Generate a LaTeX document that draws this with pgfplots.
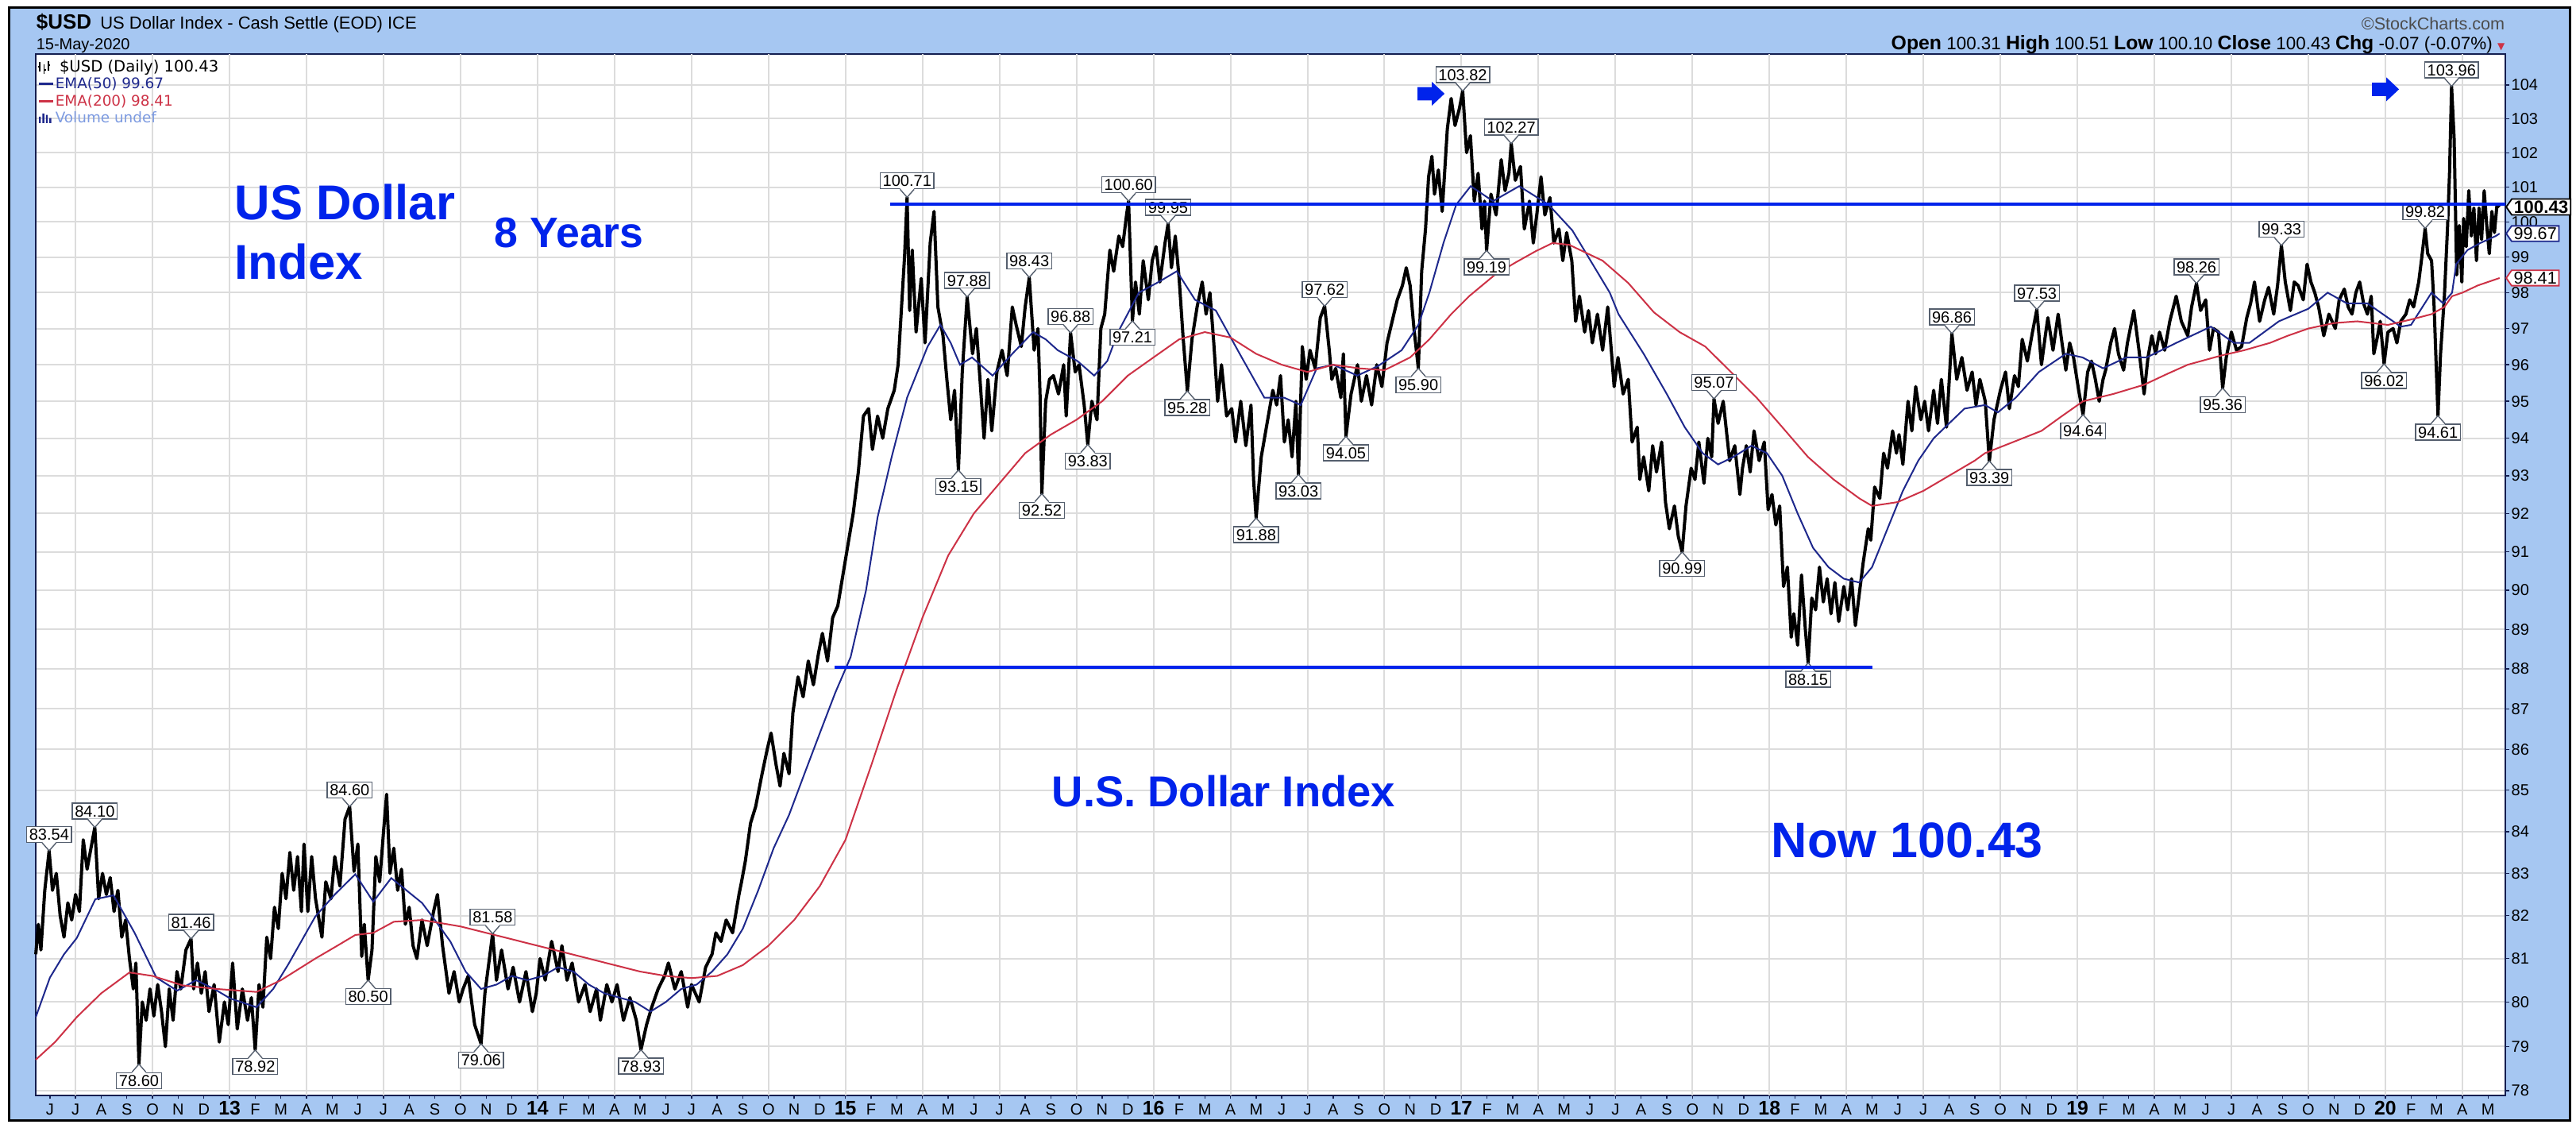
\documentclass[border=0pt]{standalone}
\usepackage{fontspec}
\setmainfont{Liberation Sans}
\newfontfamily\dejavu{DejaVu Sans}
\usepackage{pgfplots}
\usepackage{pgfplotstable}
\pgfplotsset{compat=1.18}
\usetikzlibrary{shapes.symbols}
\definecolor{framebg}{RGB}{166,199,242}
\definecolor{navy}{RGB}{30,40,140}
\definecolor{emared}{RGB}{205,50,70}
\definecolor{annblue}{RGB}{0,35,235}
\definecolor{gridgray}{RGB}{220,220,220}
\definecolor{labgray}{RGB}{85,95,110}
\definecolor{axnavy}{RGB}{20,30,80}
\definecolor{volblue}{RGB}{125,155,225}

\newcommand{\yr}[1]{{\fontsize{6.2}{6}\selectfont\bfseries #1}}
\tikzset{lab/.style={draw=labgray, fill=white, line width=0.35pt, inner xsep=0.8pt, inner ysep=0.7pt,
  font=\fontsize{5}{5}\selectfont, text height=3.6pt, text depth=0pt}}
\newcommand{\hilab}[3]{%
  \node[lab, anchor=south, yshift=2.5pt] at (axis cs:#1,#2) {#3};
  \fill[white] (axis cs:#1,#2) -- ++(-2.2pt,2.8pt) -- ++(4.4pt,0pt) -- cycle;
  \draw[labgray, line width=0.35pt] (axis cs:#1,#2) ++(-2.2pt,2.5pt) -- (axis cs:#1,#2) -- ++(2.2pt,2.5pt);}
\newcommand{\lolab}[3]{%
  \node[lab, anchor=north, yshift=-2.5pt] at (axis cs:#1,#2) {#3};
  \fill[white] (axis cs:#1,#2) -- ++(-2.2pt,-2.8pt) -- ++(4.4pt,0pt) -- cycle;
  \draw[labgray, line width=0.35pt] (axis cs:#1,#2) ++(-2.2pt,-2.5pt) -- (axis cs:#1,#2) -- ++(2.2pt,-2.5pt);}
\newcommand{\barrow}[2]{%
  \fill[annblue] (axis cs:#1,#2) ++(0pt,-2.1pt) -- ++(4.5pt,0pt) -- ++(0pt,-1.65pt) -- ++(4pt,3.75pt)
   -- ++(-4pt,3.75pt) -- ++(0pt,-1.65pt) -- ++(-4.5pt,0pt) -- cycle;}

% x = months since Jan 2012 (Jan 2013 = 12), y = index value
\pgfplotstableread{
x y
4.45 81.1
4.55 81.8
4.65 81.2
4.8 82.6
4.97 83.54
5.1 82.6
5.25 83.0
5.4 82.0
5.55 81.5
5.7 82.3
5.85 81.9
6.0 82.5
6.15 82.1
6.3 83.8
6.45 83.1
6.6 83.6
6.75 84.10
6.9 82.4
7.05 83.0
7.2 82.5
7.35 82.9
7.5 82.1
7.65 82.6
7.8 81.5
7.95 81.9
8.1 81.0
8.25 80.3
8.35 80.9
8.47 78.60
8.6 80.0
8.75 79.6
8.9 80.3
9.05 79.7
9.2 80.4
9.35 79.8
9.5 79.0
9.65 80.3
9.8 79.6
9.95 80.7
10.1 80.3
10.3 81.2
10.5 81.46
10.6 80.3
10.75 80.9
10.9 80.2
11.05 80.7
11.2 79.8
11.4 80.4
11.6 79.1
11.8 80.0
11.95 79.5
12.12 80.9
12.3 79.4
12.5 80.3
12.7 79.6
12.85 80.1
13.0 78.92
13.15 80.4
13.3 79.9
13.45 81.5
13.6 81.0
13.75 82.2
13.9 81.7
14.05 83.0
14.2 82.4
14.35 83.5
14.5 82.6
14.65 83.4
14.8 82.1
14.9 83.7
15.05 82.1
15.2 83.4
15.35 82.4
15.6 81.5
15.75 82.8
15.95 82.4
16.1 83.4
16.3 82.7
16.5 84.3
16.68 84.60
16.85 83.05
17.0 83.7
17.15 81.05
17.25 81.8
17.4 80.50
17.55 81.2
17.7 83.4
17.85 82.8
18.0 84.0
18.12 84.9
18.25 83.0
18.4 83.6
18.55 82.6
18.7 83.1
18.85 81.8
19.0 82.2
19.15 81.3
19.3 81.0
19.5 81.9
19.7 81.3
19.95 82.1
20.1 82.5
20.3 81.3
20.55 80.2
20.75 80.7
20.95 80.0
21.1 80.3
21.3 80.6
21.55 79.5
21.8 79.06
21.95 80.2
22.25 81.58
22.4 80.5
22.6 81.2
22.85 80.3
23.05 80.8
23.3 80.0
23.55 80.7
23.8 79.8
23.95 80.2
24.1 81.0
24.3 80.5
24.55 81.4
24.8 80.7
24.95 81.3
25.15 80.5
25.35 80.9
25.6 80.0
25.85 80.4
26.05 79.8
26.3 80.3
26.45 79.6
26.7 80.4
26.9 80.0
27.1 80.4
27.35 79.6
27.6 80.1
27.85 79.6
28.03 78.93
28.25 79.5
28.45 79.9
28.7 80.3
28.95 80.6
29.1 80.9
29.35 80.3
29.6 80.7
29.85 79.9
30.0 80.4
30.3 80.0
30.55 80.8
30.8 81.1
30.95 81.6
31.15 81.4
31.35 81.9
31.6 81.6
31.85 82.5
31.95 82.8
32.1 83.3
32.3 84.2
32.5 84.6
32.75 85.4
32.95 86.0
33.1 86.4
33.3 85.6
33.45 85.1
33.6 85.9
33.8 85.4
33.95 86.9
34.15 87.8
34.35 87.3
34.55 88.2
34.75 87.6
34.95 88.4
35.1 88.9
35.3 88.2
35.5 89.3
35.7 89.6
35.9 90.4
36.1 91.2
36.3 92.0
36.5 93.1
36.7 94.6
36.9 94.8
37.05 93.7
37.25 94.6
37.45 94.0
37.65 94.8
37.9 95.3
38.05 96.0
38.2 97.8
38.3 99.0
38.4 100.71
38.5 97.5
38.6 99.2
38.75 96.9
38.95 98.4
39.1 96.6
39.3 99.4
39.45 100.3
39.6 97.6
39.8 96.8
39.95 95.6
40.1 94.5
40.25 95.3
40.40 93.15
40.55 95.8
40.74 97.88
40.95 96.3
41.1 97.0
41.25 95.5
41.4 94.0
41.55 95.6
41.7 94.2
41.9 95.8
42.1 96.4
42.3 95.7
42.5 97.6
42.65 97.1
42.85 96.5
43.0 97.6
43.16 98.43
43.35 96.4
43.5 97.0
43.58 95.2
43.65 92.52
43.8 95.0
43.95 95.6
44.1 95.7
44.3 95.2
44.5 96.0
44.6 94.6
44.77 96.88
44.95 95.8
45.1 96.0
45.3 94.9
45.44 93.83
45.6 95.0
45.8 94.5
45.95 97.0
46.1 97.4
46.3 99.2
46.45 98.6
46.65 99.6
46.8 99.3
46.95 100.2
47.03 100.60
47.18 97.21
47.3 98.3
47.45 97.4
47.6 98.9
47.8 97.8
47.95 98.9
48.1 99.3
48.25 98.3
48.45 99.4
48.57 99.95
48.7 98.7
48.85 99.6
49.0 98.4
49.15 96.8
49.32 95.28
49.5 96.7
49.7 97.6
49.9 98.3
50.05 97.4
50.2 98.0
50.35 96.6
50.5 95.0
50.65 96.0
50.85 94.6
51.05 94.8
51.2 93.9
51.4 95.0
51.6 93.8
51.8 94.9
51.9 92.9
52.0 91.88
52.2 93.5
52.45 94.5
52.65 95.3
52.8 94.9
52.95 95.7
53.1 93.9
53.25 94.5
53.4 93.5
53.55 95.0
53.65 93.03
53.8 96.5
53.95 95.6
54.1 96.4
54.3 95.9
54.5 97.3
54.67 97.62
54.85 96.4
54.95 95.6
55.1 95.9
55.3 95.1
55.4 96.3
55.5 94.05
55.7 95.2
55.95 96.0
56.1 95.0
56.3 95.7
56.5 94.9
56.7 96.0
56.9 95.4
57.1 96.6
57.3 97.2
57.5 97.8
57.7 98.2
57.85 98.7
58.0 98.2
58.15 97.0
58.32 95.90
58.45 98.6
58.6 99.8
58.72 101.3
58.85 101.9
58.95 100.8
59.1 101.5
59.25 100.3
59.45 102.7
59.6 103.6
59.75 102.8
59.92 103.3
60.05 103.82
60.2 102.0
60.35 102.5
60.5 100.6
60.65 101.4
60.8 99.8
60.9 100.6
60.98 99.19
61.15 100.8
61.35 100.2
61.55 101.8
61.7 100.9
61.85 101.4
61.94 102.27
62.1 101.2
62.3 101.6
62.45 99.8
62.65 100.6
62.8 99.4
62.95 100.3
63.1 101.3
63.25 100.2
63.45 100.7
63.6 99.4
63.8 99.8
63.95 98.9
64.1 99.7
64.3 98.9
64.45 97.2
64.6 97.9
64.8 96.9
64.95 97.5
65.1 96.6
65.3 97.4
65.5 96.4
65.7 97.6
65.85 96.3
65.95 95.4
66.1 96.2
66.3 95.2
66.5 95.6
66.65 93.9
66.85 94.3
66.95 92.9
67.1 93.5
67.3 92.6
67.45 93.8
67.6 93.1
67.8 93.9
67.95 92.3
68.1 91.6
68.3 92.2
68.45 91.4
68.6 90.99
68.75 92.2
68.95 93.2
69.1 92.9
69.25 93.9
69.45 92.8
69.6 94.0
69.75 93.5
69.84 95.07
70.0 94.4
70.2 95.0
70.45 93.4
70.65 93.8
70.85 92.5
70.95 93.2
71.1 93.8
71.25 93.1
71.4 94.2
71.6 93.4
71.8 93.9
71.95 92.1
72.1 92.5
72.25 91.7
72.4 92.2
72.55 90.1
72.7 90.6
72.85 88.8
72.95 89.4
73.1 88.6
73.25 90.4
73.4 89.0
73.51 88.15
73.65 89.8
73.8 89.5
73.95 90.6
74.1 89.7
74.25 90.3
74.4 89.4
74.55 90.2
74.7 89.2
74.9 90.1
75.05 89.5
75.2 90.3
75.35 89.1
75.5 89.9
75.65 90.7
75.85 91.6
75.95 91.3
76.1 92.7
76.3 92.4
76.45 93.6
76.6 93.2
76.8 94.2
76.95 93.6
77.05 94.1
77.2 93.3
77.4 95.0
77.55 94.2
77.7 95.4
77.9 94.5
78.05 95.0
78.2 94.2
78.4 95.3
78.55 94.4
78.7 95.6
78.9 94.3
79.0 95.5
79.11 96.86
79.3 95.6
79.5 96.2
79.7 95.3
79.9 95.8
80.05 94.9
80.2 95.6
80.41 95.0
80.57 93.39
80.75 94.5
81.0 95.3
81.2 95.8
81.35 94.8
81.55 95.7
81.7 95.4
81.85 96.7
82.05 96.1
82.25 96.9
82.42 97.53
82.6 96.0
82.75 96.8
82.85 97.3
83.05 96.4
83.25 97.4
83.4 96.6
83.55 95.85
83.7 96.6
83.85 96.2
84.05 95.3
84.22 94.64
84.4 95.8
84.55 96.1
84.7 95.6
84.85 95.0
85.0 95.6
85.1 95.85
85.3 96.6
85.45 97.0
85.6 96.3
85.8 95.85
85.95 96.6
86.2 97.5
86.4 96.4
86.6 95.2
86.75 96.2
86.9 96.8
87.05 96.3
87.2 96.9
87.4 96.4
87.6 97.2
87.85 97.9
88.05 97.2
88.3 96.8
88.45 97.6
88.64 98.26
88.8 97.5
89.0 97.8
89.15 96.4
89.3 97.0
89.5 96.9
89.66 95.36
89.8 96.2
90.0 96.9
90.2 96.4
90.4 96.5
90.6 97.3
90.75 97.7
90.9 98.3
91.1 97.2
91.3 97.8
91.45 98.15
91.65 97.4
91.8 98.2
91.95 99.33
92.1 98.3
92.3 97.5
92.45 98.3
92.6 98.2
92.8 97.8
92.95 98.8
93.1 98.3
93.25 98.0
93.4 97.6
93.6 96.8
93.8 97.4
94.05 97.0
94.2 97.8
94.4 98.1
94.55 97.6
94.7 97.4
94.85 98.0
95.0 98.3
95.15 97.7
95.3 97.4
95.45 97.9
95.55 96.3
95.7 96.8
95.8 97.2
95.95 96.02
96.1 96.9
96.3 97.0
96.45 96.6
96.6 97.2
96.8 97.4
96.95 97.8
97.1 97.6
97.3 98.3
97.42 99.0
97.55 99.82
97.65 99.1
97.8 98.9
97.9 97.6
98.05 94.61
98.15 96.3
98.3 97.9
98.42 99.8
98.5 101.4
98.58 103.96
98.68 102.4
98.78 98.5
98.88 99.9
98.98 98.3
99.05 100.1
99.15 99.3
99.25 100.9
99.35 99.6
99.45 100.4
99.55 98.9
99.65 100.4
99.75 99.5
99.85 100.9
99.95 99.9
100.05 99.1
100.15 100.3
100.25 99.7
100.35 100.5
100.45 100.43
}\pricetab

\pgfplotstableread{
x y
4.45 79.66
5.0 80.56
5.55 81.1
6.05 81.48
6.77 82.39
7.48 82.48
8.3 81.6
9.15 80.56
9.96 80.26
10.7 80.5
11.4 80.3
12.03 80.08
13.05 79.9
13.7 80.3
14.29 80.87
15.34 81.98
16.1 82.5
16.9 82.98
17.6 82.33
18.3 82.89
19.5 82.3
20.0 81.9
20.6 81.4
21.2 80.7
21.8 80.3
22.4 80.4
23.0 80.6
23.6 80.5
24.2 80.6
24.8 80.8
25.4 80.7
26.0 80.4
26.6 80.2
27.2 80.1
27.8 80.0
28.4 79.8
29.0 80.0
29.6 80.3
30.2 80.4
30.8 80.7
31.4 81.1
32.0 81.7
32.6 82.6
33.2 83.6
33.8 84.4
34.4 85.4
35.0 86.4
35.6 87.4
36.2 88.3
36.8 90.0
37.25 91.9
37.8 93.5
38.4 95.1
39.2 96.5
39.7 97.1
40.1 96.6
40.46 96.0
40.93 96.2
41.73 95.7
42.5 96.3
43.31 96.9
43.8 96.7
44.27 96.4
45.04 96.1
45.69 95.7
46.2 96.1
46.62 96.9
47.43 98.0
48.2 98.3
48.91 98.6
49.62 97.8
50.43 97.5
51.36 96.3
52.32 95.1
53.09 95.1
53.74 94.9
54.36 95.9
55.01 96.0
55.94 95.7
56.74 95.96
57.67 96.4
58.32 97.1
58.75 98.0
59.3 99.4
59.8 100.5
60.36 101.03
61.23 100.6
62.25 101.03
63.39 100.5
64.32 99.76
65.78 98.0
66.12 97.4
67.1 96.3
68.0 95.2
68.7 94.3
69.4 93.6
70.0 93.3
70.6 93.5
71.3 93.8
71.9 93.6
72.5 93.0
73.1 92.0
73.7 91.1
74.3 90.6
74.9 90.3
75.5 90.2
76.0 90.6
76.6 91.6
77.2 92.6
77.8 93.4
78.4 94.0
79.0 94.4
79.6 94.8
80.4 94.9
80.9 94.7
81.6 95.1
82.5 95.8
83.55 96.3
84.2 96.2
85.0 95.9
85.9 96.2
86.7 96.2
87.85 96.6
89.2 97.05
90.1 96.6
90.7 96.6
91.85 97.2
93.0 97.55
93.75 98.0
94.5 97.7
95.3 97.7
95.7 97.5
96.6 97.05
97.0 97.1
97.8 98.0
98.25 97.7
98.6 98.0
98.76 98.8
99.2 99.2
99.7 99.4
100.3 99.6
100.45 99.67
}\emafifty

\pgfplotstableread{
x y
4.45 78.7
5.2 79.1
6.05 79.66
7.0 80.2
8.1 80.68
9.0 80.6
10.17 80.38
11.5 80.3
13.05 80.23
14.0 80.5
15.34 81.0
16.2 81.3
16.9 81.55
17.6 81.6
18.4 81.86
19.5 81.9
20.0 81.85
21.0 81.75
22.0 81.6
23.0 81.45
24.0 81.3
25.0 81.15
26.0 81.0
27.0 80.85
28.0 80.7
29.0 80.6
30.0 80.55
31.0 80.6
32.0 80.85
33.0 81.3
34.0 81.9
35.0 82.7
36.0 83.8
37.0 85.6
38.0 87.5
39.0 89.3
40.0 90.9
41.0 92.0
42.0 92.8
43.0 93.6
44.0 94.1
45.0 94.5
46.0 95.0
47.0 95.7
48.0 96.2
49.0 96.7
50.0 96.9
51.0 96.75
52.0 96.3
53.0 96.0
54.0 95.8
55.0 96.0
56.0 95.9
57.0 95.85
58.0 96.2
58.75 96.7
59.6 97.4
60.3 97.9
61.3 98.5
62.1 98.85
62.9 99.17
63.55 99.4
64.2 99.35
65.5 98.9
66.5 98.27
67.5 97.45
68.5 96.9
69.5 96.5
70.5 95.8
71.5 95.1
72.5 94.3
73.5 93.5
74.5 92.9
75.5 92.4
76.0 92.2
77.0 92.3
78.0 92.6
79.0 93.0
80.0 93.4
80.4 93.6
81.5 93.9
82.6 94.2
83.4 94.6
84.22 95.0
85.4 95.2
86.6 95.45
87.5 95.75
88.3 96.0
89.6 96.25
90.5 96.4
91.5 96.6
92.2 96.8
93.0 97.0
94.0 97.15
94.9 97.2
96.1 97.1
97.0 97.25
97.8 97.4
98.3 97.6
98.6 97.9
99.0 98.0
99.6 98.2
100.45 98.41
}\ematwohundred

\begin{document}
\begin{tikzpicture}
\useasboundingbox (-11.25pt,-11.25pt) rectangle (799.75pt,344.75pt);
\fill[white] (-11.25pt,-11.25pt) rectangle (799.75pt,344.75pt);
\filldraw[fill=framebg, draw=black, line width=0.75pt] (-8.25pt,-7.75pt) rectangle (797.75pt,342.25pt);
\begin{axis}[
  at={(0pt,0pt)}, anchor=south west,
  scale only axis, width=777.5pt, height=327.75pt,
  xmin=4.448, xmax=100.676,
  ymode=log, ymin=77.91, ymax=104.93,
  clip=false,
  axis background/.style={fill=white},
  axis line style={axnavy, line width=0.45pt},
  ytick={78,79,80,81,82,83,84,85,86,87,88,89,90,91,92,93,94,95,96,97,98,99,100,101,102,103,104},
  yticklabels={78,79,80,81,82,83,84,85,86,87,88,89,90,91,92,93,94,95,96,97,98,99,100,101,102,103,104},
  ytick pos=right, yticklabel pos=right,
  ymajorgrids, xmajorgrids=false,
  grid style={gridgray, line width=0.5pt},
  xtick={5,...,100},
  xticklabels={J,J,A,S,O,N,D,
    \yr{13},F,M,A,M,J,J,A,S,O,N,D,
    \yr{14},F,M,A,M,J,J,A,S,O,N,D,
    \yr{15},F,M,A,M,J,J,A,S,O,N,D,
    \yr{16},F,M,A,M,J,J,A,S,O,N,D,
    \yr{17},F,M,A,M,J,J,A,S,O,N,D,
    \yr{18},F,M,A,M,J,J,A,S,O,N,D,
    \yr{19},F,M,A,M,J,J,A,S,O,N,D,
    \yr{20},F,M,A,M},
  xtick pos=bottom,
  extra x ticks={6,9,...,99},
  extra x tick labels={},
  extra x tick style={grid=major, major tick length=0pt},
  tick align=outside, major tick length=1.2pt,
  tick style={axnavy, line width=0.35pt},
  xticklabel style={font=\fontsize{5}{6}\selectfont, text height=4.4pt, text depth=0pt, inner ysep=0.3pt},
  yticklabel style={font=\fontsize{5}{6}\selectfont, inner xsep=0.5pt},
]
\addplot[black, line width=1pt, line join=round] table[x=x,y=y]{\pricetab};
\addplot[navy, line width=0.5pt] table[x=x,y=y]{\emafifty};
\addplot[emared, line width=0.5pt] table[x=x,y=y]{\ematwohundred};

\hilab{4.97}{83.54}{83.54}
\hilab{6.75}{84.10}{84.10}
\hilab{10.5}{81.46}{81.46}
\hilab{16.68}{84.60}{84.60}
\hilab{22.25}{81.58}{81.58}
\hilab{38.4}{100.71}{100.71}
\hilab{40.74}{97.88}{97.88}
\hilab{43.16}{98.43}{98.43}
\hilab{44.77}{96.88}{96.88}
\hilab{47.03}{100.60}{100.60}
\hilab{48.57}{99.95}{99.95}
\hilab{54.67}{97.62}{97.62}
\hilab{60.05}{103.82}{103.82}
\hilab{61.94}{102.27}{102.27}
\hilab{69.84}{95.07}{95.07}
\hilab{79.11}{96.86}{96.86}
\hilab{82.42}{97.53}{97.53}
\hilab{88.64}{98.26}{98.26}
\hilab{91.95}{99.33}{99.33}
\hilab{97.55}{99.82}{99.82}
\hilab{98.58}{103.96}{103.96}

\lolab{8.47}{78.60}{78.60}
\lolab{13.0}{78.92}{78.92}
\lolab{17.4}{80.50}{80.50}
\lolab{21.8}{79.06}{79.06}
\lolab{28.03}{78.93}{78.93}
\lolab{40.40}{93.15}{93.15}
\lolab{43.65}{92.52}{92.52}
\lolab{45.44}{93.83}{93.83}
\lolab{47.18}{97.21}{97.21}
\lolab{49.32}{95.28}{95.28}
\lolab{52.0}{91.88}{91.88}
\lolab{53.65}{93.03}{93.03}
\lolab{55.5}{94.05}{94.05}
\lolab{58.32}{95.90}{95.90}
\lolab{60.98}{99.19}{99.19}
\lolab{68.6}{90.99}{90.99}
\lolab{73.51}{88.15}{88.15}
\lolab{80.57}{93.39}{93.39}
\lolab{84.22}{94.64}{94.64}
\lolab{89.66}{95.36}{95.36}
\lolab{95.95}{96.02}{96.02}
\lolab{98.05}{94.61}{94.61}

\addplot[annblue, line width=1pt] coordinates {(37.74,100.5) (100.676,100.5)};
\addplot[annblue, line width=1pt] coordinates {(35.58,88.05) (76.02,88.05)};

\barrow{58.29}{103.74}
\barrow{95.48}{103.87}

\node[signal, signal to=west, signal pointer angle=110, draw=black, fill=white, line width=0.45pt,
  inner xsep=0.7pt, inner ysep=0.5pt, anchor=west, font=\fontsize{5.6}{5.6}\selectfont\bfseries]
  at (axis cs:100.676,100.43) {100.43};
\node[signal, signal to=west, signal pointer angle=110, draw=navy, fill=white, line width=0.45pt,
  inner xsep=0.7pt, inner ysep=0.5pt, anchor=west, font=\fontsize{5.4}{5.4}\selectfont]
  at (axis cs:100.676,99.67) {99.67};
\node[signal, signal to=west, signal pointer angle=110, draw=emared, fill=white, line width=0.45pt,
  inner xsep=0.7pt, inner ysep=0.5pt, anchor=west, font=\fontsize{5.4}{5.4}\selectfont]
  at (axis cs:100.676,98.41) {98.41};
\end{axis}

% header
\node[anchor=base west, inner sep=0pt] at (0pt,335.5pt)
  {{\fontsize{6.5}{7}\selectfont\bfseries \$USD} {\fontsize{5.5}{6}\selectfont US Dollar Index - Cash Settle (EOD) ICE}};
\node[anchor=base west, inner sep=0pt, font=\fontsize{5}{6}\selectfont] at (0pt,329pt) {15-May-2020};
\node[anchor=base east, inner sep=0pt, font=\fontsize{5.4}{6}\selectfont, text=black!70] at (777.5pt,335.4pt) {\textcopyright StockCharts.com};
\node[anchor=base east, inner sep=0pt] at (777.5pt,329pt)
  {\fontsize{5.6}{6}\selectfont{\fontsize{6.2}{6}\selectfont\bfseries Open} 100.31 {\fontsize{6.2}{6}\selectfont\bfseries High} 100.51
   {\fontsize{6.2}{6}\selectfont\bfseries Low} 100.10 {\fontsize{6.2}{6}\selectfont\bfseries Close} 100.43
   {\fontsize{6.2}{6}\selectfont\bfseries Chg} -0.07 (-0.07\%) {\color{emared}\fontsize{3}{3}\selectfont\dejavu ▼}};

% legend inside plot
\draw[black, line width=0.45pt] (1.3pt,322.3pt) -- (1.3pt,325.3pt) (2.6pt,321.6pt) -- (2.6pt,324.6pt) (3.9pt,322.6pt) -- (3.9pt,325.6pt)
  (0.7pt,323.8pt) -- (1.3pt,323.8pt) (2.6pt,322.8pt) -- (3.2pt,322.8pt) (3.9pt,324.2pt) -- (4.5pt,324.2pt);
\node[anchor=base west, inner sep=0pt, font=\dejavu\fontsize{4.9}{5}\selectfont] at (7.3pt,322pt) {\$USD (Daily) 100.43};
\draw[navy, line width=0.8pt] (1pt,318.4pt) -- (5.5pt,318.4pt);
\node[anchor=base west, inner sep=0pt, font=\dejavu\fontsize{4.6}{5}\selectfont, text=navy] at (6pt,316.75pt) {EMA(50) 99.67};
\draw[emared, line width=0.8pt] (1pt,312.9pt) -- (5.5pt,312.9pt);
\node[anchor=base west, inner sep=0pt, font=\dejavu\fontsize{4.6}{5}\selectfont, text=emared] at (6pt,311.25pt) {EMA(200) 98.41};
\fill[navy] (1pt,306pt) rectangle (1.6pt,308pt) (2.1pt,306pt) rectangle (2.7pt,309pt) (3.2pt,306pt) rectangle (3.8pt,308.6pt) (4.3pt,306pt) rectangle (4.9pt,307.6pt);
\node[anchor=base west, inner sep=0pt, font=\dejavu\fontsize{4.6}{5}\selectfont, text=volblue] at (6pt,306pt) {Volume undef};

% annotations
\node[anchor=base west, inner sep=0pt, text=annblue, font=\fontsize{15.4}{18}\selectfont\bfseries] at (62.5pt,275.5pt) {US Dollar};
\node[anchor=base west, inner sep=0pt, text=annblue, font=\fontsize{15.4}{18}\selectfont\bfseries] at (62.5pt,256.75pt) {Index};
\node[anchor=base west, inner sep=0pt, text=annblue, font=\fontsize{13.4}{16}\selectfont\bfseries] at (144.25pt,266.75pt) {8 Years};
\node[anchor=base west, inner sep=0pt, text=annblue, font=\fontsize{13.6}{16}\selectfont\bfseries] at (319.75pt,90.75pt) {U.S. Dollar Index};
\node[anchor=base west, inner sep=0pt, text=annblue, font=\fontsize{15.7}{18}\selectfont\bfseries] at (546.25pt,74.75pt) {Now 100.43};
\end{tikzpicture}
\end{document}
